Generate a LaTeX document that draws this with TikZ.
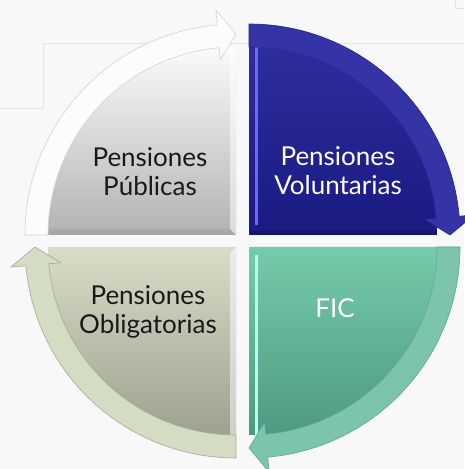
\documentclass[tikz,border=0pt]{standalone}
\usepackage{fontspec}
\setmainfont{Lato}
\definecolor{bg}{HTML}{F8F8F8}
\definecolor{bgline}{HTML}{E4E4E4}
\definecolor{tlTop}{HTML}{FBFBFB}
\definecolor{tlBot}{HTML}{B2B2B2}
\definecolor{tlBand}{HTML}{FCFCFC}
\definecolor{tlLine}{HTML}{D2D2D2}
\definecolor{trTop}{HTML}{2D2D9E}
\definecolor{trBot}{HTML}{1A1A82}
\definecolor{trBand}{HTML}{3434A6}
\definecolor{trLine}{HTML}{24248C}
\definecolor{trHi}{HTML}{6A6AF0}
\definecolor{blTop}{HTML}{D7DDC7}
\definecolor{blBot}{HTML}{9DA290}
\definecolor{blBand}{HTML}{D4DCC4}
\definecolor{blLine}{HTML}{A2AC92}
\definecolor{brTop}{HTML}{75CBAA}
\definecolor{brBot}{HTML}{4D9A80}
\definecolor{brBand}{HTML}{7CC4AA}
\definecolor{brLine}{HTML}{5EA78D}
\definecolor{brHi}{HTML}{B4FFF0}
\tikzset{
  label/.style={font=\fontsize{26}{29}\selectfont, align=center, inner sep=0pt},
  bandstyle/.style={line width=0.6pt, line join=round}
}
\begin{document}
\begin{tikzpicture}[x=1pt,y=1pt]
\useasboundingbox (0,0) rectangle (464,469);
\fill[bg] (0,0) rectangle (464,469);
\draw[bgline, line width=0.8pt] (0,361) -- (43,361) -- (43,426) -- (464,426);
\draw[bgline, line width=0.8pt] (455,469) -- (455,461) -- (464,461);

% Top-left quadrant
\begin{scope}[shift={(236,234)}]
  \shade[top color=tlTop, bottom color=tlBot] (0,0) -- (180:188) arc[start angle=180,end angle=90,radius=188] -- cycle;
  \fill[white, opacity=0.55] (0,0) -- (0,188) -- (-6,187.9) -- (-6,6) -- cycle;
  \fill[black, opacity=0.06] (0,0) -- (-188,0) -- (-187.9,6) -- (-6,6) -- cycle;
  \filldraw[bandstyle, fill=tlBand, draw=tlLine] (180:211) arc[start angle=180,end angle=95.1,radius=211] -- (95.1:226) -- (90:201) -- (95.1:176) -- (95.1:188) arc[start angle=95.1,end angle=180,radius=188] -- cycle;
\end{scope}

% Top-right quadrant
\begin{scope}[shift={(249,234)}]
  \shade[top color=trTop, bottom color=trBot] (0,0) -- (90:188) arc[start angle=90,end angle=0,radius=188] -- cycle;
  \fill[trHi] (6,10) rectangle (8.5,188);
  \fill[black, opacity=0.15] (0,0) -- (188,0) -- (187.9,4) -- (4,4) -- cycle;
  \filldraw[bandstyle, fill=trBand, draw=trLine] (90:211) arc[start angle=90,end angle=5.1,radius=211] -- (5.1:226) -- (0:201) -- (5.1:176) -- (5.1:188) arc[start angle=5.1,end angle=90,radius=188] -- cycle;
\end{scope}

% Bottom-left quadrant
\begin{scope}[shift={(236,222)}]
  \shade[top color=blTop, bottom color=blBot] (0,0) -- (-90:188) arc[start angle=-90,end angle=-180,radius=188] -- cycle;
  \fill[white, opacity=0.5] (0,0) -- (0,-188) -- (-6,-187.9) -- (-6,-6) -- cycle;
  \filldraw[bandstyle, fill=blBand, draw=blLine] (-90:211) arc[start angle=-90,end angle=-174.9,radius=211] -- (-174.9:226) -- (-180:201) -- (-174.9:176) -- (-174.9:188) arc[start angle=-174.9,end angle=-90,radius=188] -- cycle;
\end{scope}

% Bottom-right quadrant
\begin{scope}[shift={(249,222)}]
  \shade[top color=brTop, bottom color=brBot] (0,0) -- (0:188) arc[start angle=0,end angle=-90,radius=188] -- cycle;
  \fill[brHi] (6,-8) rectangle (8.5,-190);
  \filldraw[bandstyle, fill=brBand, draw=brLine] (0:211) arc[start angle=0,end angle=-84.9,radius=211] -- (-84.9:226) -- (-90:201) -- (-84.9:176) -- (-84.9:188) arc[start angle=-84.9,end angle=0,radius=188] -- cycle;
\end{scope}

\node[label, text=black!90] (publicas) at (150,297.5) {Pensiones\\Públicas};
\node[label, text=white] (voluntarias) at (338,298) {Pensiones\\Voluntarias};
\node[label, text=black!90] (obligatorias) at (148,157.5) {Pensiones\\Obligatorias};
\node[label, text=white] (fic) at (335,161) {FIC};
\end{tikzpicture}
\end{document}
